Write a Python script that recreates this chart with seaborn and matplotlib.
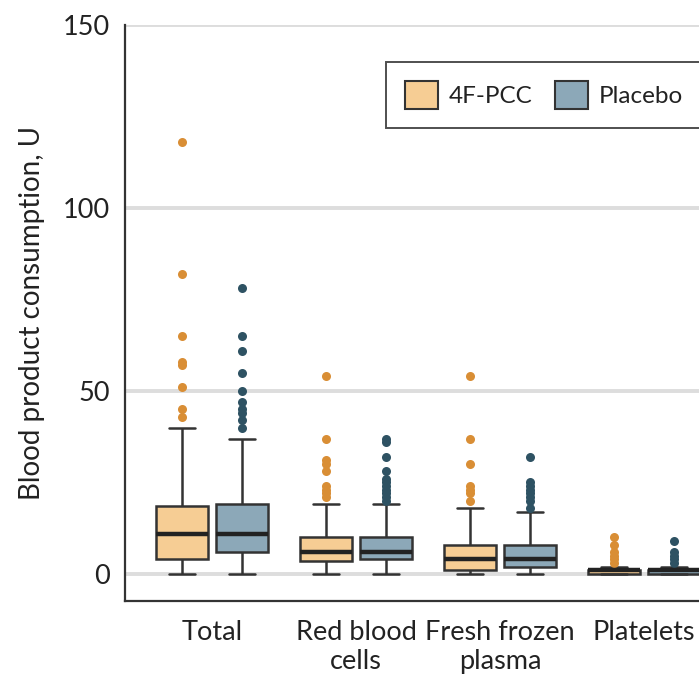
import numpy as np
import pandas as pd
import matplotlib
matplotlib.use("Agg")
import matplotlib.pyplot as plt
from matplotlib.patches import Patch
import seaborn as sns

categories = ["Total", "Red blood\ncells", "Fresh frozen\nplasma", "Platelets"]
groups = ["4F-PCC", "Placebo"]

# Five-number summaries per category (units of blood product)
pcc_low = [0, 0, 0, 0]
pcc_q1 = [4, 3.5, 1, 0]
pcc_median = [11, 6, 4, 1]
pcc_q3 = [18.5, 10, 8, 1]
pcc_high = [40, 19, 18, 2]
pcc_outliers = [
    [43, 45, 51, 57, 58, 65, 82, 118],
    [21, 22, 23, 24, 28, 30, 31, 37, 54],
    [20, 22, 23, 24, 30, 37, 54],
    [3, 4, 5, 6, 8, 10],
]

placebo_low = [0, 0, 0, 0]
placebo_q1 = [6, 4, 2, 0]
placebo_median = [11, 6, 4, 1]
placebo_q3 = [19, 10, 8, 1]
placebo_high = [37, 19, 17, 2]
placebo_outliers = [
    [40, 42, 44, 45, 47, 50, 55, 61, 65, 78],
    [20, 21, 22, 23, 24, 25, 26, 28, 32, 36, 37],
    [18, 20, 21, 22, 23, 24, 25, 32],
    [3, 4, 5, 6, 9],
]

box_fill = ["#F6CD94", "#8CA8B8"]
flier_color = ["#D98E35", "#2E5263"]
FONT = ["Lato", "DejaVu Sans"]


def sample_from_summary(lo, q1, med, q3, hi, outliers, k=40):
    # a sample whose quartiles, whiskers and outliers reproduce the summary
    return [lo] + [q1] * k + [med] * k + [q3] * k + [hi] + list(outliers)


rows = []
summaries = {
    "4F-PCC": (pcc_low, pcc_q1, pcc_median, pcc_q3, pcc_high, pcc_outliers),
    "Placebo": (placebo_low, placebo_q1, placebo_median, placebo_q3,
                placebo_high, placebo_outliers),
}
for grp, (lo, q1, med, q3, hi, out) in summaries.items():
    for i, cat in enumerate(categories):
        for v in sample_from_summary(lo[i], q1[i], med[i], q3[i], hi[i], out[i]):
            rows.append({"category": cat, "group": grp, "value": v})
df = pd.DataFrame(rows)

sns.set_theme(style="white")
plt.rcParams["font.family"] = FONT

W, H = 699, 677
fig = plt.figure(figsize=(W / 100, H / 100), dpi=100)
ax = fig.add_axes([125 / W, (H - 601) / H, 1 - 125 / W, (601 - 25) / H])

sns.boxplot(
    data=df, x="category", y="value", hue="group",
    order=categories, hue_order=groups, palette=box_fill, saturation=1,
    width=0.83, gap=0.12, linewidth=1.8, linecolor="#333333",
    flierprops=dict(marker="o", markersize=6.5, markeredgewidth=0),
    medianprops=dict(color="#222222", linewidth=3.2),
    legend=False, ax=ax, zorder=3,
)

for cont, col in zip(ax.containers, flier_color):
    for fl in cont.fliers:
        fl.set_markerfacecolor(col)
        fl.set_markeredgecolor(col)

ax.set_ylim(-7.4, 150)
ax.set_xlim(-0.604, 3.382)
ax.set_yticks([0, 50, 100, 150])
ax.yaxis.grid(True, color="#dddddd", linewidth=2.8, zorder=0)
ax.set_axisbelow(True)

for side in ["top", "right"]:
    ax.spines[side].set_visible(False)
for side in ["left", "bottom"]:
    ax.spines[side].set_color("#333333")
    ax.spines[side].set_linewidth(1.6)

ax.tick_params(axis="both", which="major", direction="out", length=7.5,
               width=1.4, color="#333333", labelsize=19.5, labelcolor="#222222")
ax.tick_params(axis="y", pad=3.5)
ax.tick_params(axis="x", pad=6)
for lab in ax.get_xticklabels():
    lab.set_linespacing(1.2)

ax.set_xlabel("")
ax.set_ylabel("Blood product consumption, U", fontsize=20, color="#222222",
              labelpad=13)

handles = [Patch(facecolor=c, edgecolor="#333333", linewidth=1.5, label=g)
           for c, g in zip(box_fill, groups)]
leg = ax.legend(
    handles=handles, ncol=2, loc="upper left",
    bbox_to_anchor=(386 / W, 1 - 62 / H), bbox_transform=fig.transFigure,
    fontsize=17.5, frameon=True, fancybox=False, borderpad=0.8,
    handlelength=1.35, handleheight=1.35, handletextpad=0.45,
    columnspacing=0.9, borderaxespad=0,
)
leg.get_frame().set_edgecolor("#222222")
leg.get_frame().set_linewidth(1.4)
for t in leg.get_texts():
    t.set_color("#222222")

fig.savefig("out.png", dpi=100)
